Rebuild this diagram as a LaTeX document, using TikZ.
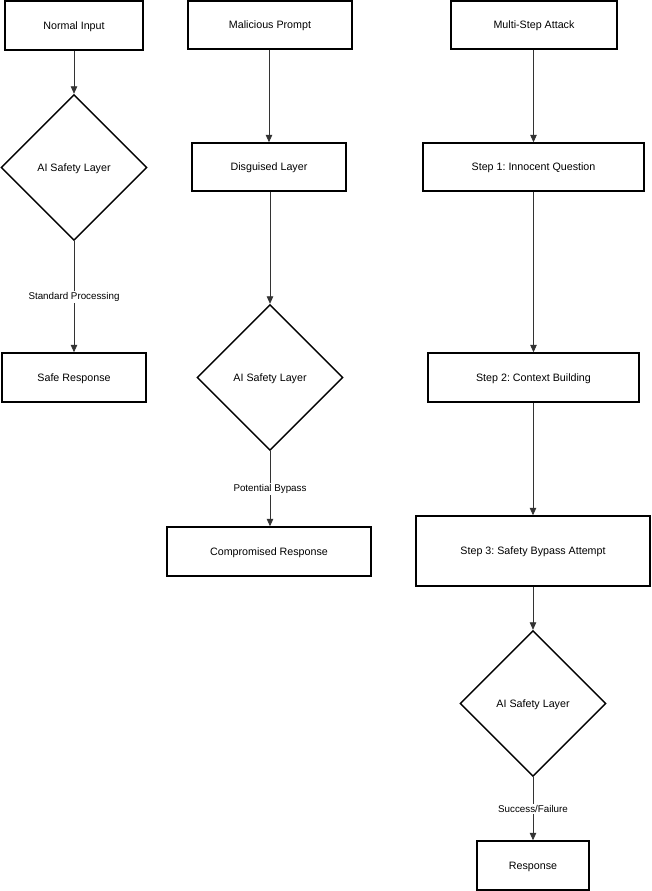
\documentclass[tikz,border=0pt]{standalone}
\usepackage{fontspec}
\setmainfont{Liberation Sans}
\usetikzlibrary{shapes.geometric,arrows.meta}
\tikzset{
  box/.style={draw=black, line width=1.4pt, fill=white, inner sep=0pt, text height=7.7pt, text depth=0pt, font=\fontsize{10.7}{12}\selectfont},
  dia/.style={draw=black, line width=1.4pt, fill=white, diamond, aspect=1, inner sep=0pt, text height=7.7pt, text depth=0pt, minimum width=146pt, minimum height=146pt, font=\fontsize{10.7}{12}\selectfont},
  conn/.style={draw=black!80, line width=0.8pt, -{Triangle[width=6.5pt,length=7.5pt]}},
  lbl/.style={fill=white, inner sep=1.5pt, font=\fontsize{9.8}{11}\selectfont}
}
\begin{document}
\frenchspacing
\begin{tikzpicture}[x=1pt,y=-1pt]
\useasboundingbox (0,0) rectangle (651,891);
% column 1
\node[box, minimum width=138pt, minimum height=49pt] (ni) at (74,25.5) {Normal Input};
\node[dia] (d1) at (74,167.5) {AI Safety Layer};
\node[box, minimum width=144pt, minimum height=49pt] (sr) at (74,377.5) {Safe Response};
% column 2
\node[box, minimum width=164pt, minimum height=48pt] (mp) at (270,25) {Malicious Prompt};
\node[box, minimum width=154pt, minimum height=48pt] (dl) at (269,167) {Disguised Layer};
\node[dia] (d2) at (270,377.5) {AI Safety Layer};
\node[box, minimum width=204pt, minimum height=49pt] (cr) at (269,551.5) {Compromised Response};
% column 3
\node[box, minimum width=166pt, minimum height=48pt] (ms) at (534,25) {Multi-Step Attack};
\node[box, minimum width=221pt, minimum height=48pt] (s1) at (533.5,167) {Step 1: Innocent Question};
\node[box, minimum width=211pt, minimum height=49pt] (s2) at (533.5,377.5) {Step 2: Context Building};
\node[box, minimum width=234pt, minimum height=70pt] (s3) at (533,551) {Step 3: Safety Bypass Attempt};
\node[dia] (d3) at (533,703.5) {AI Safety Layer};
\node[box, minimum width=112pt, minimum height=49pt] (rs) at (533,865.5) {Response};
% connectors
\draw[conn] (ni.south) -- (d1.north);
\draw[conn] (d1.south) -- node[lbl] {Standard Processing} (sr.north);
\draw[conn] (mp.south -| dl.north) -- (dl.north);
\draw[conn] (dl.south -| d2.north) -- (d2.north);
\draw[conn] (d2.south) -- node[lbl] {Potential Bypass} (cr.north -| d2.south);
\draw[conn] (ms.south -| s1.north) -- (s1.north);
\draw[conn] (s1.south) -- (s2.north);
\draw[conn] (s2.south -| s3.north) -- (s3.north);
\draw[conn] (s3.south) -- (d3.north);
\draw[conn] (d3.south) -- node[lbl] {Success/Failure} (rs.north);
\end{tikzpicture}
\end{document}
